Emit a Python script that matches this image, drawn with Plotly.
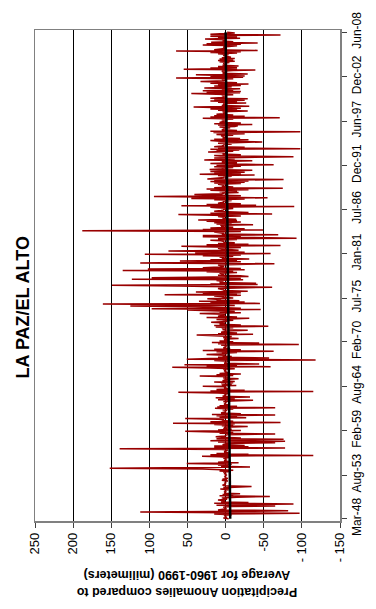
import pandas as pd
import plotly.graph_objects as go

# Monthly precipitation anomalies (mm) versus the 1960-1990 average,
# one row per calendar year; the record starts in March 1948 and ends in June 2008.
anomaly_rows = [
    [-4, 3, -2, 1, 0, 2, -8, 15, -97, 20],                          # 1948 (Mar-Dec)
    [112, -25, -82, 10, 2, -1, 0, 3, -6, -65, 12, -20],             # 1949
    [-89, 15, -30, 6, 1, 3, 10, -2, 1, 5, -15, -58],                # 1950
    [8, -10, 4, -19, 2, 0, 1, -1, 2, -4, 7, -6],                    # 1951
    [3, -12, -34, 2, 4, 0, 1, 0, -1, 2, -3, 5],                     # 1952
    [-2, 4, -3, 1, 0, 1, 0, -1, 0, 2, -1, 3],                       # 1953
    [-5, 8, -10, 12, 30, 152, 20, -32, 6, -4, 10, -8],              # 1954
    [51, -17, 10, -6, 2, 0, 1, -2, 3, -5, 8, 31],                   # 1955
    [-115, 20, -30, 12, -4, 2, 0, 1, -3, 5, 139, -78],              # 1956
    [15, -30, 15, -25, 4, 2, -1, -65, 10, -78, 20, -15],            # 1957
    [-76, 12, -20, 5, 13, 1, 0, -3, -65, 8, -10, 15],               # 1958
    [53, -20, 10, -8, 3, 0, 2, -29, 5, -10, 15, -12],               # 1959
    [69, -72, 20, -10, 5, 2, 10, 53, -27, 8, -15, 12],              # 1960
    [-65, 18, -20, 6, 2, 0, 1, -2, 4, -10, 14, -65],                # 1961
    [11, -15, 8, -5, 2, 1, 0, -1, 3, -8, -36, 10],                  # 1962
    [-12, 6, 13, -32, 4, 1, 0, 2, -5, 10, 62, -115],                # 1963
    [20, -25, 12, -6, 2, 0, 1, 30, -14, 5, -8, 6],                  # 1964
    [-10, 15, -12, 4, 2, 0, -17, 3, 1, -5, 34, -10],                # 1965
    [12, -20, 8, -4, 1, 0, 2, -1, 3, -12, 20, 70],                  # 1966
    [-59, 25, -15, 54, -44, 2, 0, 1, -3, 15, -118, 51],             # 1967
    [20, -57, 10, -8, 4, 1, 25, -2, 5, -15, 12, -63],               # 1968
    [30, -20, 15, -6, 3, 0, 1, -2, 6, -96, 10, -44],                # 1969
    [18, -10, 8, -5, 2, 0, -17, 3, 1, -8, 12, 38],                  # 1970
    [-36, 10, -15, 6, 2, 0, -29, 4, 1, 5, -10, 13],                 # 1971
    [-56, 15, -20, 8, 3, 1, 19, -2, 4, -10, 12, -18],               # 1972
    [-31, 25, -15, 10, 3, 1, 2, 34, -20, 8, -12, 30],               # 1973
    [50, -46, 97, -20, 15, 40, 125, -12, 30, 161, -45, 20],         # 1974
    [-25, 35, -18, 12, 6, 24, -10, 5, 2, 15, -20, 80],              # 1975
    [-15, 30, -20, 39, -29, 3, 2, 6, 10, -15, -61, 25],             # 1976
    [60, 149, -42, 20, -40, 8, 3, 5, 12, -23, 123, -20],            # 1977
    [97, 40, -30, -19, 10, 2, 4, 8, -15, 25, -10, 135],             # 1978
    [-25, 102, -20, 30, 8, 2, 4, 10, -15, -64, 112, 40],            # 1979
    [-20, 60, -15, 20, -31, 5, 2, 8, -10, 30, -20, 106],            # 1980
    [-59, 40, -25, 15, 75, -17, 3, 5, 10, -20, 30, 58],             # 1981
    [-72, 25, -30, 10, -12, 3, 2, 6, 20, -15, 10, -93],             # 1982
    [11, 30, -20, 30, -69, 5, 2, 8, 15, -20, 188, -49],             # 1983
    [30, -25, 20, -10, 6, 2, 7, -36, 12, -8, 15, -20],              # 1984
    [25, -15, 36, -14, 4, 2, 3, 10, -20, 15, 62, -61],              # 1985
    [20, -30, -14, 15, 6, 2, 3, -10, 12, 20, -90, 58],              # 1986
    [-40, 25, -20, 10, 5, 2, 3, -8, 15, -25, 45, -55],              # 1987
    [30, 94, -20, 15, 41, 5, 2, -17, 8, -15, 20, -30],              # 1988
    [25, -75, 15, -10, 5, 2, 3, 10, -20, 15, -25, 20],              # 1989
    [-30, 15, -76, 24, 5, 2, 3, -8, 10, -38, 34, -20],              # 1990
    [15, -25, 20, -10, -35, 21, 3, 5, -10, 15, -20, 12],            # 1991
    [-63, -14, 20, -15, 5, 2, -35, 28, 8, -12, 15, -25],            # 1992
    [-89, 7, 15, -20, 4, 2, 3, 23, -10, 12, -18, 20],               # 1993
    [-98, 10, -25, 15, 5, 2, 3, -8, 10, -15, -48, 7],               # 1994
    [20, -30, 15, -19, 4, 2, 3, 6, -10, 12, -25, 15],               # 1995
    [16, -98, 20, -15, 5, 2, 3, -6, 8, -12, -16, 10],               # 1996
    [-35, 15, -20, 8, 3, 1, 2, 5, -10, 30, -71, 20],                # 1997
    [-25, 15, -10, 12, 3, 1, 2, 4, -29, 10, -15, 20],               # 1998
    [-20, 25, 42, -31, 5, 1, 2, 3, -27, 10, -15, 20],               # 1999
    [-25, 15, -29, 20, 4, 1, 2, 5, -10, 15, 45, -19],               # 2000
    [25, -20, 30, -10, 5, -19, 28, 3, -8, 15, -20, 10],             # 2001
    [-30, 20, -15, 10, 33, 2, 1, 5, -10, 65, -23, 20],              # 2002
    [-25, 15, 39, -29, 4, 1, 2, 5, -10, -39, 55, -15],              # 2003
    [20, -15, 10, -17, 4, 1, 2, 3, -5, 8, -12, 10],                 # 2004
    [-10, 8, -12, 5, -7, 1, 2, 3, -4, 10, -15, 20],                 # 2005
    [-20, 65, -42, 15, 4, 1, 2, 3, -8, -15, 30, -20],               # 2006
    [25, -42, 19, -10, 4, 1, 2, 27, -19, 10, -15, 20],              # 2007
    [15, -72, 20, -8, -12, -2],                                     # 2008 (Jan-Jun)
]
record_start = "1948-03-01"

# Linear trend of the anomalies (mm) at the first and last month of the record
trend_dates = ["1948-03-01", "2008-06-01"]
trend_mm = [-6, 0]

# Value axis ticks
value_ticks = [250, 200, 150, 100, 50, 0, -50, -100, -150]
value_tick_text = ["250", "200", "150", "100", "50", "0", "-50", "- 100", "- 150"]

# Date axis ticks
date_ticks = ["1948-03-01", "1953-08-01", "1959-02-01", "1964-08-01", "1970-02-01",
              "1975-07-01", "1981-01-01", "1986-07-01", "1991-12-01", "1997-06-01",
              "2002-12-01", "2008-06-01"]
date_tick_text = ["Mar-48", "Aug-53", "Feb-59", "Aug-64", "Feb-70", "Jul-75",
                  "Jan-81", "Jul-86", "Dec-91", "Jun-97", "Dec-02", "Jun-08"]

anomaly_mm = [v for row in anomaly_rows for v in row]
months = pd.date_range(start=record_start, periods=len(anomaly_mm), freq="MS")

FONT = "Liberation Sans, Arial, sans-serif"

fig = go.Figure()
fig.add_trace(go.Scatter(
    x=anomaly_mm, y=months, mode="lines",
    line=dict(color="#990000", width=1.5),
    hoverinfo="skip", showlegend=False,
))
fig.add_trace(go.Scatter(
    x=trend_mm, y=pd.to_datetime(trend_dates), mode="lines",
    line=dict(color="#000000", width=2.5),
    hoverinfo="skip", showlegend=False,
))

fig.update_layout(
    width=376, height=609,
    margin=dict(l=35, r=25, t=19, b=88),
    paper_bgcolor="white", plot_bgcolor="white",
    font=dict(family=FONT, size=13, color="black"),
    showlegend=False,
    xaxis=dict(
        range=[250, -150],
        tickmode="array", tickvals=value_ticks, ticktext=value_tick_text,
        tickangle=-90, ticks="outside", ticklen=5, tickcolor="#404040",
        showgrid=True, gridcolor="#000000", gridwidth=1,
        zeroline=False,
        showline=True, linecolor="#808080", linewidth=1.5, mirror=True,
        tickfont=dict(family=FONT, size=13, color="black"),
        fixedrange=True,
    ),
    yaxis=dict(
        type="date", side="right",
        range=["1947-11-20", "2008-09-10"],
        tickmode="array", tickvals=date_ticks, ticktext=date_tick_text,
        tickangle=-90, ticks="outside", ticklen=5, tickcolor="#404040",
        showgrid=False, zeroline=False,
        showline=True, linecolor="#808080", linewidth=1.5, mirror=True,
        tickfont=dict(family=FONT, size=12, color="black"),
        fixedrange=True,
    ),
    annotations=[
        dict(
            text="<b>LA PAZ/EL ALTO</b>", textangle=-90,
            xref="paper", yref="paper", x=-0.041, y=0.436,
            xanchor="center", yanchor="middle", showarrow=False,
            font=dict(family=FONT, size=18, color="black"),
        ),
        dict(
            text="<b>Precipitation Anomalies compared to<br>Average for 1960-1990 (milimeters)</b>",
            textangle=180,
            xref="paper", yref="paper", x=0.497, y=-0.128,
            xanchor="center", yanchor="middle", showarrow=False,
            font=dict(family=FONT, size=12.5, color="black"),
        ),
    ],
)

fig.write_html("out.html", config={"displayModeBar": False, "staticPlot": True})
